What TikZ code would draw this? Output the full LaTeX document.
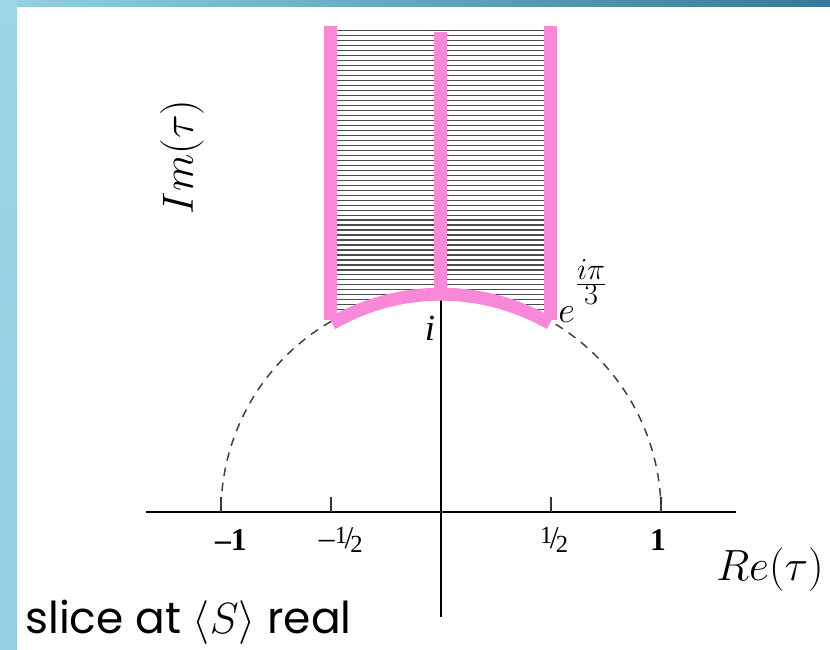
\documentclass[tikz,border=0pt]{standalone}
\usepackage{fontspec}
\setmainfont{Liberation Serif}
\newfontfamily\slidefont{Poppins}
% small slanted one-half, as in the figure
\newcommand{\halfsym}{{\fontsize{14}{14}\selectfont\raisebox{0.45ex}{1}\kern-0.1em{\fontsize{18}{18}\selectfont/}\kern-0.12em\raisebox{-0.3ex}{2}}}

\begin{document}
\begin{tikzpicture}[x=4.4cm, y=4.4cm,
    pinkband/.style={draw=pinkfd, line width=7.4pt},
    hatchline/.style={draw=black!70, line width=0.6pt},
    axisline/.style={draw=black, line width=1.1pt},
    tickmark/.style={draw=black!80, line width=0.8pt},
    dashcircle/.style={draw=black!75, line width=0.85pt, dash pattern=on 4.8pt off 4pt},
    ticklabel/.style={font=\fontsize{18}{18}\selectfont},
    axislabel/.style={font=\fontsize{27}{27}\selectfont}]
    % --- Colores ---
    \definecolor{pinkfd}{HTML}{FA88D9}
    \definecolor{slideleft}{HTML}{91D0E2}
    \definecolor{slidetop}{HTML}{35799A}

    % --- Fondo de la diapositiva ---
    \useasboundingbox (-2.0045,-0.6227) rectangle (1.7682,2.3273);
    \fill[white] (-2.0045,-0.6227) rectangle (1.7682,2.3273);
    \fill[top color=slideleft!90!white, bottom color=slideleft] (-2.0045,-0.6227) rectangle (-1.927,2.3273);
    \fill[left color=slideleft, right color=slidetop] (-1.927,2.2995) rectangle (1.7682,2.3273);

    % --- Rayado del dominio fundamental ---
    \begin{scope}
        \clip (-0.5,2.195) -- (0.5,2.195) -- (60:1) arc (60:120:1) -- cycle;
        \foreach \k in {0,...,60} {
            \draw[hatchline] (-0.5,2.19-\k*0.0227) -- (0.5,2.19-\k*0.0227);
        }
    \end{scope}

    % --- Ejes ---
    \draw[axisline] (-1.34,0) -- (1.34,0);
    \draw[axisline] (0,-0.477) -- (0,2.18);
    \foreach \x in {-1,-0.5,0.5,1} {
        \draw[tickmark] (\x,0) -- (\x,0.068);
    }

    % --- Circulo unidad (a trazos) ---
    \draw[dashcircle] (1,0) arc (0:60:1);
    \draw[dashcircle] (120:1) arc (120:180:1);

    % --- Bordes rosas ---
    \draw[pinkband] (-0.5,0.873) -- (-0.5,2.209);
    \draw[pinkband] (0.5,0.873) -- (0.5,2.209);
    \draw[pinkband] (60:0.99) arc (60:120:0.99);
    \draw[pinkband] (0,0.977) -- (0,2.18);

    % --- Etiquetas ---
    \node[ticklabel] (lblmone) at (-0.955,-0.127) {\textbf{\textendash 1}};
    \node[ticklabel] (lblmhalf) at (-0.455,-0.127) {\textendash\halfsym};
    \node[ticklabel] (lblhalf) at (0.514,-0.127) {\halfsym};
    \node[ticklabel] (lblone) at (0.986,-0.127) {\textbf{1}};
    \node[font=\fontsize{21}{21}\selectfont] (lbli) at (-0.05,0.836) {\textit{i}};
    \node[font=\fontsize{21}{21}\selectfont, anchor=base west, inner sep=0pt] (lble) at (0.532,0.86)
        {$e$\raisebox{0.85em}{\fontsize{17}{17}\selectfont$\frac{\textstyle i\pi}{\textstyle 3}$}};
    \node[axislabel] (lblre) at (1.495,-0.26) {$Re(\tau)$};
    \node[axislabel, rotate=90] (lblim) at (-1.177,1.614) {$Im(\tau)$};
    \node[font=\slidefont\fontsize{25}{25}\selectfont, anchor=base west, inner sep=0pt] (lblslice)
        at (-1.891,-0.553) {slice at $\langle S\rangle$ real};
\end{tikzpicture}
\end{document}
